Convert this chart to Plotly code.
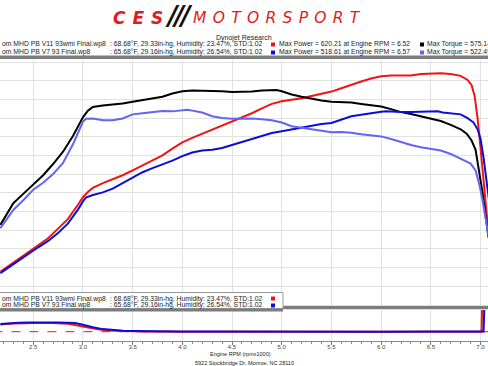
import plotly.graph_objects as go

W, H = 488, 366


def px(x):
    return x / W


def py(y):
    return 1 - y / H


# ---------------- data ----------------
# Run 1 (red power / black torque)
rpm_r1 = [2.17, 2.25, 2.35, 2.45, 2.55, 2.65, 2.75, 2.85, 2.95, 3.00, 3.05, 3.10, 3.20, 3.30,
          3.40, 3.50, 3.60, 3.70, 3.80, 3.90, 4.00, 4.10, 4.20, 4.30, 4.40, 4.50, 4.60, 4.70,
          4.80, 4.90, 5.00, 5.10, 5.20, 5.30, 5.40, 5.50, 5.60, 5.70, 5.80, 5.90, 6.00, 6.10,
          6.20, 6.30, 6.40, 6.50, 6.60, 6.70, 6.80, 6.87, 6.91, 6.94, 6.97, 7.00, 7.02, 7.04,
          7.07, 7.10]
power_r1 = [89, 104, 122, 141, 160, 178, 204, 230, 268, 288, 302, 313, 326, 336,
            347, 360, 373, 387, 400, 418, 435, 447, 458, 468, 479, 489, 501, 513,
            526, 538, 545, 548, 553, 559, 565, 571, 580, 590, 598, 606, 612, 614,
            613, 614, 618, 620, 620, 618, 613, 602, 588, 560, 500, 420, 360, 300,
            220, 150]

rpm_t1 = [2.17, 2.30, 2.40, 2.50, 2.60, 2.70, 2.80, 2.90, 3.00, 3.05, 3.10, 3.20, 3.30, 3.40,
          3.50, 3.60, 3.70, 3.80, 3.90, 4.00, 4.10, 4.20, 4.30, 4.40, 4.50, 4.60, 4.70, 4.80,
          4.90, 4.95, 5.00, 5.10, 5.20, 5.30, 5.40, 5.50, 5.60, 5.70, 5.80, 5.90, 6.00, 6.10,
          6.20, 6.30, 6.40, 6.50, 6.60, 6.70, 6.80, 6.86, 6.91, 6.95, 6.98, 7.00, 7.02, 7.05,
          7.08]
torque_r1 = [214, 272, 297, 321, 347, 377, 410, 452, 502, 520, 530, 534, 536, 539,
             544, 549, 554, 557, 566, 572, 574, 574, 573, 572, 570, 570, 571, 574,
             575, 575, 572, 563, 557, 551, 547, 544, 543, 542, 538, 535, 531, 524,
             516, 511, 505, 500, 492, 482, 470, 458, 440, 415, 370, 335, 300, 240,
             180]

# Run 2 (blue power / light-blue torque)
rpm_p2 = [2.17, 2.25, 2.35, 2.45, 2.55, 2.65, 2.75, 2.85, 2.95, 3.00, 3.03, 3.10, 3.20, 3.30,
          3.40, 3.50, 3.60, 3.70, 3.80, 3.90, 4.00, 4.10, 4.20, 4.30, 4.40, 4.50, 4.60, 4.70,
          4.80, 4.90, 5.00, 5.10, 5.20, 5.30, 5.40, 5.50, 5.60, 5.70, 5.80, 5.90, 6.00, 6.05,
          6.10, 6.20, 6.30, 6.40, 6.50, 6.57, 6.62, 6.70, 6.80, 6.87, 6.93, 6.97, 7.00, 7.03,
          7.06, 7.09]
power_r2 = [85, 100, 118, 136, 154, 171, 192, 218, 255, 277, 287, 294, 301, 311,
            325, 340, 355, 366, 375, 386, 398, 408, 413, 415, 420, 428, 438, 446,
            454, 460, 465, 470, 474, 479, 484, 487, 496, 505, 509, 514, 517, 518,
            517, 516, 516, 516, 516, 518, 515, 512, 510, 500, 488, 470, 445, 395,
            330, 270]

rpm_t2 = [2.17, 2.30, 2.40, 2.50, 2.60, 2.70, 2.80, 2.90, 2.95, 3.00, 3.03, 3.10, 3.20, 3.30,
          3.40, 3.50, 3.60, 3.70, 3.80, 3.90, 4.00, 4.05, 4.10, 4.20, 4.30, 4.40, 4.50, 4.60,
          4.70, 4.80, 4.90, 5.00, 5.10, 5.20, 5.30, 5.40, 5.50, 5.60, 5.70, 5.80, 5.90, 6.00,
          6.10, 6.20, 6.30, 6.40, 6.50, 6.60, 6.70, 6.80, 6.90, 6.95, 6.99, 7.02, 7.06, 7.09]
torque_r2 = [205, 254, 280, 308, 327, 350, 380, 430, 460, 490, 498, 499, 494, 494,
             499, 510, 513, 515, 519, 518, 522, 522, 520, 515, 505, 500, 498, 499,
             499, 497, 494, 488, 478, 474, 470, 466, 462, 463, 461, 457, 454, 451,
             444, 435, 428, 422, 418, 413, 404, 392, 378, 360, 320, 280, 220, 170]

# lower panel (air/fuel)
rpm_afr1 = [2.17, 2.30, 2.50, 2.70, 2.85, 2.95, 3.05, 3.15, 3.25, 3.40, 3.60, 4.00, 4.50,
            5.00, 5.50, 6.00, 6.50, 6.90, 7.01, 7.02]
afr_r1 = [13.2, 13.4, 13.5, 13.5, 13.35, 13.0, 12.6, 12.25, 12.05, 11.95, 11.85, 11.8, 11.82,
          11.8, 11.83, 11.8, 11.82, 11.8, 11.8, 20.0]
rpm_afr2 = [2.17, 2.25, 2.35, 2.45, 2.55, 2.65, 2.75, 2.85, 2.92, 3.00, 3.10, 3.20, 3.30, 3.40,
            3.50, 3.70, 4.00, 4.50, 5.00, 5.50, 6.00, 6.50, 6.90, 7.03, 7.045]
afr_r2 = [13.3, 13.45, 13.55, 13.6, 13.55, 13.6, 13.6, 13.55, 13.5, 13.15, 12.65, 12.3, 12.1, 12.0,
          11.95, 11.9, 11.85, 11.85, 11.8, 11.85, 11.8, 11.85, 11.8, 11.82, 20.0]
afr_target = 11.8

run1_name = "om MHD PB V11 93wmi Final.wp8"
run2_name = "om MHD PB V7 93 Final.wp8"
run1_cond = ": 68.68°F, 29.33in-hg, Humidity: 23.47%, STD:1.02"
run2_cond = ": 65.68°F, 29.16in-hg, Humidity: 26.54%, STD:1.02"
run1_power = "Max Power = 620.21 at Engine RPM = 6.52"
run2_power = "Max Power = 518.61 at Engine RPM = 6.57"
run1_torque = "Max Torque = 575.14 at Engine RPM = 4.90"
run2_torque = "Max Torque = 522.49 at Engine RPM = 4.03"

RED = "#ee1515"
BLACK = "#000000"
BLUE = "#0c0cd8"
LBLUE = "#6464f4"

fig = go.Figure()
fig.add_trace(go.Scatter(x=rpm_r1, y=power_r1, mode="lines", line=dict(color=RED, width=2),
                         hoverinfo="skip"))
fig.add_trace(go.Scatter(x=rpm_t1, y=torque_r1, mode="lines", line=dict(color=BLACK, width=2),
                         hoverinfo="skip"))
fig.add_trace(go.Scatter(x=rpm_p2, y=power_r2, mode="lines", line=dict(color=BLUE, width=2),
                         hoverinfo="skip"))
fig.add_trace(go.Scatter(x=rpm_t2, y=torque_r2, mode="lines", line=dict(color=LBLUE, width=2),
                         hoverinfo="skip"))

fig.add_trace(go.Scatter(x=[2.1, 7.2], y=[afr_target, afr_target], mode="lines", yaxis="y2",
                         line=dict(color=RED, width=1, dash="dash"), hoverinfo="skip"))
fig.add_trace(go.Scatter(x=rpm_afr1, y=afr_r1, mode="lines", yaxis="y2",
                         line=dict(color=RED, width=2), hoverinfo="skip"))
fig.add_trace(go.Scatter(x=rpm_afr2, y=afr_r2, mode="lines", yaxis="y2",
                         line=dict(color=BLUE, width=2), hoverinfo="skip"))

FONT = "Liberation Sans"
GRID = "#e2e2e2"

fig.update_layout(
    width=W, height=H, margin=dict(l=0, r=0, t=0, b=0),
    paper_bgcolor="white", plot_bgcolor="white", showlegend=False,
    xaxis=dict(domain=[0, 1], range=[2.166, 7.075], anchor="y2", dtick=0.5, tick0=2.5,
               tickformat=".1f", showgrid=True, gridcolor=GRID, gridwidth=1,
               ticks="outside", ticklen=3, tickcolor="#777", showline=True,
               linecolor="#888", linewidth=1, zeroline=False, ticklabelstandoff=-3,
               tickfont=dict(size=6, color="#444", family=FONT),
               minor=dict(dtick=0.1, ticks="outside", ticklen=2, tickcolor="#888",
                          showgrid=False)),
    yaxis=dict(domain=[py(304.8), py(59.5)], range=[0, 656.9], dtick=50, showgrid=True,
               gridcolor=GRID, gridwidth=1, showticklabels=False, zeroline=False, ticks=""),
    yaxis2=dict(domain=[py(341), py(310)], range=[10, 16], showgrid=False,
                showticklabels=False, zeroline=False, ticks=""),
)

shapes = []
# top legend box bottom bar
shapes.append(dict(type="rect", xref="paper", yref="paper", x0=0, x1=1, y0=py(59), y1=py(55.5),
                   fillcolor="#7c7c7c", line=dict(width=0), layer="above"))
# lower panel separator bar
shapes.append(dict(type="rect", xref="paper", yref="paper", x0=0, x1=1, y0=py(309.3), y1=py(305.7),
                   fillcolor="#7c7c7c", line=dict(width=0), layer="above"))
# lower legend box
shapes.append(dict(type="rect", xref="paper", yref="paper", x0=px(-1), x1=px(283), y0=py(308.5),
                   y1=py(292.5), fillcolor="white", line=dict(color="#9a9a9a", width=1),
                   layer="above"))
shapes.append(dict(type="rect", xref="paper", yref="paper", x0=0, x1=px(283), y0=py(311.5),
                   y1=py(308.5), fillcolor="#7c7c7c", line=dict(width=0), layer="above"))


def square(x, y, color):
    shapes.append(dict(type="rect", xref="paper", yref="paper", x0=px(x), x1=px(x + 4),
                       y0=py(y + 2), y1=py(y - 2), fillcolor=color, line=dict(width=0),
                       layer="above"))


square(271, 44.5, RED)
square(420, 44.5, BLACK)
square(271, 52.5, BLUE)
square(420, 52.5, LBLUE)
square(271, 298.5, RED)
square(271, 305.5, BLUE)
fig.update_layout(shapes=shapes)

ann = []


def text(x, y, s, size=6.8, color="#222", xanchor="left", family=FONT):
    ann.append(dict(x=px(x), y=py(y), xref="paper", yref="paper", text=s, showarrow=False,
                    xanchor=xanchor, yanchor="middle", font=dict(size=size, color=color,
                                                                 family=family)))


# logo
ann.append(dict(x=px(141), y=py(18), xref="paper", yref="paper", showarrow=False,
                xanchor="center", yanchor="middle",
                text='<b><i><span style="letter-spacing:7px">CES</span></i></b>',
                font=dict(size=17, color="#e01b24", family="DejaVu Sans")))
ann.append(dict(x=px(179), y=py(16.5), xref="paper", yref="paper", showarrow=False,
                xanchor="center", yanchor="middle",
                text='<b><i><span style="letter-spacing:-3px">///</span></i></b>',
                font=dict(size=26, color="#111", family="DejaVu Sans")))
ann.append(dict(x=px(279), y=py(18), xref="paper", yref="paper", showarrow=False,
                xanchor="center", yanchor="middle",
                text='<i><span style="letter-spacing:6.3px">MOTORSPORT</span></i>',
                font=dict(size=15.5, color="#e01b24", family="DejaVu Sans")))

text(244, 37.5, "Dynojet Research", size=7, xanchor="center")

text(0, 44, run1_name)
text(108, 44, run1_cond)
text(277, 44, run1_power)
text(425, 44, run1_torque)
text(0, 52, run2_name)
text(108, 52, run2_cond)
text(277, 52, run2_power)
text(425, 52, run2_torque)

text(0, 298.5, run1_name)
text(108, 298.5, run1_cond)
text(0, 305.3, run2_name)
text(108, 305.3, run2_cond)

text(240, 354, "Engine RPM (rpmx1000)", size=5.5, xanchor="center")
text(244, 362.5, "5922 Stockbridge Dr. Monroe, NC 28110", size=5.5, xanchor="center")

fig.update_layout(annotations=ann)

fig.write_html("out.html")
